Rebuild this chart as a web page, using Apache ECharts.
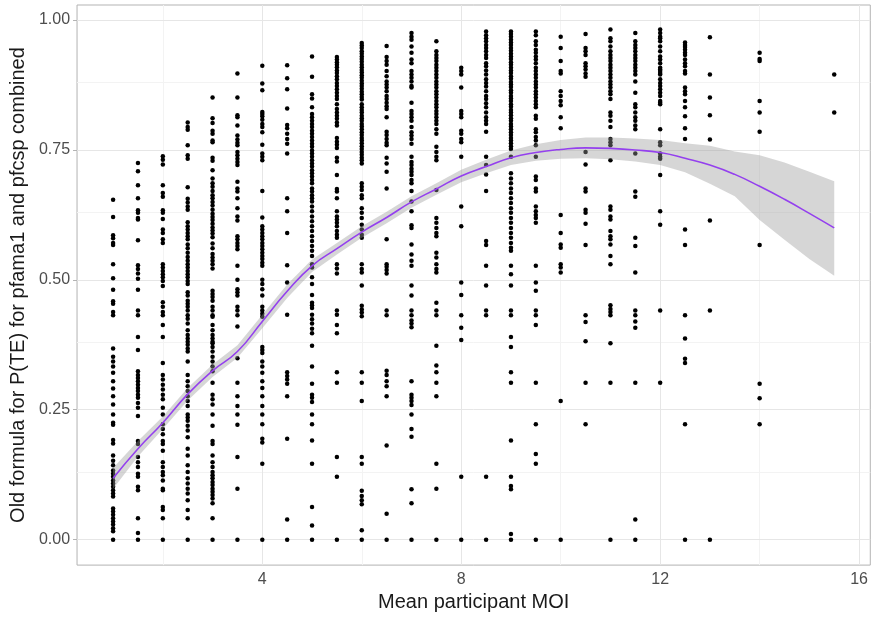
<!DOCTYPE html>
<html>
<head>
<meta charset="utf-8">
<script src="https://cdn.jsdelivr.net/npm/echarts@6/dist/echarts.min.js"></script>
<style>
html,body{margin:0;padding:0;background:#fff;}
#chart{width:871px;height:617px;}
</style>
</head>
<body>
<div id="chart"></div>
<script>
// ---------- tick labels / gridlines ----------
const xMajorTicks = [4, 8, 12, 16];
const xMinorGrid = [2, 6, 10, 14];
const yMajorTicks = [0, 0.25, 0.5, 0.75, 1];
const yMinorGrid = [0.125, 0.375, 0.625, 0.875];

// ---------- scatter data: one array per MOI level ----------
const pte_1_0 = [0.654,0.621,0.586,0.580,0.571,0.567,0.530,0.503,0.481,0.459,0.454,0.438,0.432,0.368,0.352,0.343,0.333,0.321,0.305,0.291,0.276,0.260,0.241,0.225,0.221,0.192,0.185,0.162,0.152,0.143,0.133,0.127,0.121,0.114,0.108,0.102,0.095,0.089,0.083,0.060,0.054,0.048,0.041,0.035,0.029,0.022,0.016,0];
const pte_1_5 = [0.725,0.709,0.682,0.657,0.634,0.629,0.619,0.616,0.576,0.528,0.521,0.512,0.502,0.481,0.441,0.432,0.390,0.365,0.324,0.317,0.311,0.305,0.298,0.292,0.286,0.279,0.273,0.263,0.254,0.238,0.190,0.184,0.159,0.149,0.140,0.127,0.121,0.102,0.095,0.041,0.013,0];
const pte_2_0 = [0.738,0.731,0.722,0.682,0.667,0.660,0.634,0.629,0.617,0.597,0.590,0.578,0.571,0.530,0.524,0.517,0.511,0.505,0.498,0.488,0.457,0.448,0.438,0.432,0.413,0.390,0.340,0.317,0.308,0.298,0.289,0.279,0.270,0.254,0.241,0.222,0.213,0.203,0.190,0.184,0.171,0.149,0.140,0.130,0.124,0.114,0.098,0.095,0.063,0.057,0.041,0];
const pte_2_5 = [0.803,0.794,0.789,0.759,0.740,0.733,0.678,0.656,0.649,0.641,0.635,0.611,0.603,0.597,0.590,0.584,0.578,0.568,0.561,0.552,0.544,0.537,0.530,0.524,0.517,0.511,0.505,0.498,0.492,0.476,0.470,0.460,0.454,0.448,0.441,0.432,0.425,0.416,0.403,0.394,0.387,0.381,0.375,0.368,0.362,0.343,0.317,0.305,0.295,0.286,0.276,0.267,0.257,0.241,0.235,0.229,0.219,0.210,0.197,0.175,0.162,0.143,0.130,0.118,0.108,0.098,0.089,0.076,0.057,0.041,0];
const pte_3_0 = [0.851,0.811,0.802,0.787,0.781,0.768,0.765,0.735,0.729,0.711,0.695,0.686,0.679,0.671,0.663,0.657,0.650,0.643,0.635,0.627,0.621,0.615,0.608,0.601,0.595,0.589,0.582,0.570,0.561,0.550,0.543,0.537,0.530,0.522,0.479,0.473,0.467,0.460,0.448,0.441,0.432,0.429,0.413,0.403,0.394,0.387,0.381,0.378,0.371,0.362,0.352,0.343,0.333,0.324,0.302,0.279,0.270,0.260,0.241,0.219,0.190,0.184,0.162,0.149,0.140,0.130,0.124,0.118,0.111,0.105,0.098,0.092,0.086,0.079,0.070,0.041,0];
const pte_3_5 = [0.897,0.851,0.817,0.813,0.797,0.778,0.770,0.764,0.759,0.746,0.740,0.733,0.727,0.721,0.689,0.676,0.670,0.657,0.638,0.622,0.614,0.584,0.578,0.571,0.565,0.559,0.527,0.500,0.482,0.476,0.470,0.448,0.441,0.432,0.410,0.349,0.302,0.276,0.257,0.241,0.221,0.159,0.098,0];
const pte_4_0 = [0.912,0.878,0.865,0.823,0.819,0.815,0.808,0.800,0.794,0.784,0.760,0.743,0.737,0.730,0.671,0.620,0.603,0.597,0.590,0.584,0.578,0.571,0.565,0.559,0.552,0.546,0.540,0.533,0.527,0.500,0.492,0.482,0.470,0.448,0.441,0.435,0.429,0.371,0.365,0.359,0.343,0.333,0.321,0.305,0.292,0.276,0.257,0.241,0.222,0.194,0.187,0.146,0];
const pte_4_5 = [0.913,0.888,0.867,0.830,0.798,0.792,0.781,0.771,0.762,0.743,0.657,0.632,0.590,0.528,0.495,0.433,0.322,0.315,0.308,0.300,0.276,0.194,0.039,0];
const pte_5_0 = [0.930,0.891,0.857,0.849,0.832,0.819,0.813,0.806,0.800,0.794,0.787,0.781,0.775,0.768,0.762,0.756,0.749,0.743,0.737,0.730,0.724,0.718,0.711,0.705,0.699,0.692,0.686,0.676,0.670,0.663,0.657,0.651,0.641,0.632,0.622,0.613,0.603,0.594,0.584,0.575,0.565,0.556,0.546,0.530,0.524,0.505,0.492,0.471,0.456,0.451,0.446,0.433,0.424,0.416,0.406,0.397,0.373,0.333,0.300,0.279,0.273,0.265,0.241,0.222,0.191,0.146,0.063,0.027,0];
const pte_5_5 = [0.929,0.924,0.919,0.914,0.909,0.903,0.898,0.892,0.886,0.879,0.873,0.867,0.860,0.854,0.848,0.838,0.829,0.822,0.816,0.810,0.803,0.797,0.773,0.766,0.760,0.754,0.735,0.728,0.702,0.675,0.670,0.657,0.632,0.622,0.616,0.610,0.603,0.594,0.587,0.581,0.530,0.522,0.512,0.441,0.433,0.413,0.397,0.322,0.302,0.159,0.121,0];
const pte_6_0 = [0.956,0.951,0.946,0.940,0.935,0.930,0.925,0.920,0.914,0.909,0.904,0.899,0.894,0.889,0.883,0.878,0.873,0.868,0.862,0.857,0.852,0.847,0.838,0.832,0.827,0.822,0.816,0.811,0.806,0.800,0.795,0.790,0.784,0.779,0.773,0.768,0.763,0.757,0.752,0.746,0.741,0.735,0.730,0.724,0.686,0.679,0.673,0.663,0.657,0.638,0.629,0.619,0.606,0.597,0.587,0.581,0.530,0.521,0.514,0.489,0.450,0.443,0.437,0.430,0.322,0.302,0.267,0.159,0.146,0.094,0.084,0.076,0.068,0.018,0];
const pte_6_5 = [0.950,0.929,0.921,0.914,0.902,0.892,0.882,0.876,0.870,0.863,0.854,0.848,0.841,0.834,0.829,0.813,0.785,0.779,0.771,0.764,0.759,0.735,0.724,0.708,0.676,0.578,0.530,0.525,0.519,0.512,0.441,0.432,0.325,0.317,0.305,0.295,0.276,0.181,0.050,0];
const pte_7_0 = [0.975,0.968,0.962,0.949,0.937,0.924,0.917,0.902,0.895,0.889,0.882,0.873,0.870,0.841,0.825,0.819,0.813,0.806,0.794,0.784,0.778,0.771,0.762,0.737,0.727,0.721,0.714,0.708,0.702,0.692,0.686,0.671,0.651,0.632,0.605,0.600,0.568,0.549,0.537,0.527,0.489,0.470,0.441,0.432,0.422,0.416,0.409,0.305,0.279,0.273,0.267,0.259,0.241,0.213,0.198,0.097,0.070,0];
const pte_7_5 = [0.959,0.940,0.933,0.927,0.921,0.914,0.908,0.902,0.895,0.889,0.882,0.876,0.870,0.863,0.857,0.851,0.844,0.838,0.832,0.825,0.819,0.813,0.806,0.800,0.790,0.781,0.756,0.746,0.737,0.730,0.673,0.619,0.610,0.600,0.590,0.584,0.552,0.543,0.530,0.521,0.514,0.456,0.441,0.432,0.373,0.335,0.322,0.302,0.276,0.146,0.098,0];
const pte_8_0 = [0.908,0.902,0.895,0.870,0.825,0.819,0.813,0.787,0.781,0.771,0.765,0.737,0.641,0.603,0.495,0.471,0.432,0.408,0.384,0.121,0];
const pte_8_5 = [0.978,0.971,0.965,0.959,0.952,0.946,0.940,0.933,0.927,0.917,0.911,0.903,0.895,0.886,0.879,0.872,0.863,0.854,0.848,0.840,0.832,0.822,0.813,0.806,0.800,0.785,0.737,0.721,0.703,0.671,0.575,0.567,0.527,0.489,0.441,0.432,0.121,0];
const pte_9_0 = [0.978,0.973,0.968,0.962,0.957,0.952,0.946,0.941,0.935,0.930,0.925,0.919,0.914,0.908,0.903,0.898,0.892,0.887,0.881,0.876,0.871,0.865,0.860,0.854,0.849,0.844,0.838,0.833,0.827,0.822,0.817,0.811,0.806,0.800,0.795,0.790,0.784,0.779,0.773,0.768,0.763,0.757,0.752,0.737,0.705,0.695,0.686,0.676,0.667,0.657,0.648,0.638,0.629,0.619,0.610,0.600,0.590,0.581,0.571,0.562,0.556,0.527,0.511,0.489,0.441,0.432,0.390,0.371,0.322,0.302,0.191,0.121,0.103,0.097,0.011,0];
const pte_9_5 = [0.978,0.971,0.959,0.952,0.943,0.937,0.930,0.924,0.917,0.908,0.902,0.895,0.889,0.882,0.876,0.870,0.863,0.857,0.851,0.844,0.838,0.832,0.816,0.810,0.790,0.784,0.775,0.768,0.759,0.737,0.699,0.692,0.676,0.670,0.641,0.632,0.625,0.619,0.610,0.527,0.495,0.479,0.441,0.432,0.413,0.302,0.222,0.165,0.146,0];
const pte_10_0 = [0.968,0.946,0.921,0.902,0.897,0.863,0.854,0.844,0.836,0.813,0.792,0.625,0.590,0.568,0.562,0.530,0.524,0.514,0.267,0];
const pte_10_5 = [0.973,0.946,0.940,0.933,0.917,0.911,0.905,0.897,0.891,0.746,0.722,0.676,0.670,0.635,0.629,0.608,0.567,0.432,0.419,0.382,0.302,0.222];
const pte_11_0 = [0.982,0.965,0.959,0.949,0.940,0.933,0.927,0.921,0.914,0.908,0.902,0.895,0.889,0.882,0.876,0.870,0.863,0.857,0.848,0.822,0.816,0.806,0.794,0.771,0.765,0.759,0.730,0.641,0.635,0.622,0.616,0.594,0.584,0.578,0.568,0.546,0.530,0.451,0.444,0.438,0.432,0.378,0.302,0];
const pte_11_5 = [0.975,0.959,0.952,0.946,0.940,0.933,0.927,0.921,0.914,0.908,0.902,0.895,0.882,0.860,0.838,0.832,0.822,0.813,0.806,0.797,0.790,0.743,0.670,0.660,0.581,0.565,0.514,0.441,0.432,0.420,0.408,0.302,0.039,0];
const pte_12_0 = [0.982,0.975,0.968,0.965,0.959,0.949,0.940,0.930,0.924,0.917,0.908,0.905,0.902,0.898,0.895,0.886,0.879,0.873,0.867,0.860,0.854,0.844,0.841,0.838,0.790,0.765,0.759,0.743,0.737,0.733,0.702,0.632,0.606,0.441,0.302];
const pte_12_5 = [0.957,0.952,0.948,0.943,0.937,0.933,0.924,0.917,0.911,0.902,0.897,0.870,0.863,0.857,0.844,0.832,0.815,0.792,0.771,0.597,0.567,0.432,0.387,0.348,0.340,0.222,0];
const pte_13_0 = [0.967,0.895,0.851,0.817,0.770,0.614,0.441,0];
const pte_14_0 = [0.937,0.925,0.921,0.844,0.822,0.785,0.567,0.300,0.272,0.222];
const pte_15_5 = [0.895,0.822];

const moiLevels = [1,1.5,2,2.5,3,3.5,4,4.5,5,5.5,6,6.5,7,7.5,8,8.5,9,9.5,10,10.5,11,11.5,12,12.5,13,14,15.5];
const pteColumns = [pte_1_0,pte_1_5,pte_2_0,pte_2_5,pte_3_0,pte_3_5,pte_4_0,pte_4_5,pte_5_0,pte_5_5,pte_6_0,pte_6_5,pte_7_0,pte_7_5,pte_8_0,pte_8_5,pte_9_0,pte_9_5,pte_10_0,pte_10_5,pte_11_0,pte_11_5,pte_12_0,pte_12_5,pte_13_0,pte_14_0,pte_15_5];

// ---------- loess smooth with confidence band ----------
const smoothX = [1,1.5,2,2.5,3,3.5,4,4.5,5,5.5,6,6.5,7,7.5,8,8.5,9,9.5,10,10.5,11,11.5,12,12.5,13,13.5,14,14.5,15,15.5];
const smoothFit = [0.118,0.175,0.225,0.280,0.325,0.362,0.420,0.478,0.527,0.560,0.592,0.620,0.650,0.675,0.700,0.718,0.735,0.745,0.751,0.754,0.753,0.750,0.745,0.734,0.721,0.703,0.680,0.655,0.628,0.600];
const smoothLower = [0.098,0.160,0.213,0.268,0.313,0.350,0.407,0.465,0.515,0.549,0.581,0.609,0.639,0.664,0.688,0.705,0.721,0.729,0.733,0.734,0.732,0.728,0.721,0.707,0.685,0.661,0.615,0.577,0.540,0.508];
const smoothUpper = [0.138,0.190,0.237,0.292,0.337,0.374,0.433,0.491,0.539,0.571,0.603,0.631,0.661,0.686,0.712,0.731,0.749,0.761,0.769,0.774,0.774,0.772,0.769,0.763,0.758,0.747,0.740,0.726,0.708,0.690];

// ---------- build ----------
const points = [];
moiLevels.forEach((m, i) => pteColumns[i].forEach(v => points.push([m, v])));
const fitData = smoothX.map((x, i) => [x, smoothFit[i]]);

const FONT = "'Liberation Sans', Arial, Helvetica, sans-serif";
const gridMajor = {color: '#e6e6e6', width: 1, type: 'solid'};
const gridMinor = {color: '#f3f3f3', width: 1, type: 'solid'};
const gridLines = []
  .concat(xMinorGrid.map(v => ({xAxis: v, lineStyle: gridMinor})))
  .concat(yMinorGrid.map(v => ({yAxis: v, lineStyle: gridMinor})))
  .concat(xMajorTicks.map(v => ({xAxis: v, lineStyle: gridMajor})))
  .concat(yMajorTicks.map(v => ({yAxis: v, lineStyle: gridMajor})));

function renderBand(params, api) {
  const lowerPts = smoothX.map((x, i) => api.coord([x, smoothLower[i]]));
  const upperPts = smoothX.map((x, i) => api.coord([x, smoothUpper[i]])).reverse();
  return {
    type: 'polygon',
    shape: {points: lowerPts.concat(upperPts)},
    style: {fill: 'rgba(153,153,153,0.4)', stroke: null},
    silent: true
  };
}

const chart = echarts.init(document.getElementById('chart'), null, {renderer: 'canvas'});
chart.setOption({
  animation: false,
  backgroundColor: '#ffffff',
  grid: {left: 77, top: 5, width: 796, bottom: 46, show: true, borderColor: '#b3b3b3', borderWidth: 1, backgroundColor: 'transparent', z: 0},
  xAxis: {
    type: 'value', min: 0.275, max: 16.225,
    name: 'Mean participant MOI', nameLocation: 'middle', nameGap: 22,
    nameTextStyle: {fontFamily: FONT, fontSize: 20, color: '#1a1a1a'},
    axisLine: {show: false},
    axisTick: {show: true, length: 4, customValues: xMajorTicks, lineStyle: {color: '#b3b3b3'}},
    axisLabel: {customValues: xMajorTicks, fontFamily: FONT, fontSize: 16, color: '#4d4d4d', margin: 6},
    splitLine: {show: false}
  },
  yAxis: {
    type: 'value', min: -0.049, max: 1.029,
    name: 'Old formula for P(TE) for pfama1 and pfcsp combined', nameLocation: 'middle', nameGap: 44,
    nameTextStyle: {fontFamily: FONT, fontSize: 20, color: '#1a1a1a'},
    axisLine: {show: false},
    axisTick: {show: true, length: 4, customValues: yMajorTicks, lineStyle: {color: '#b3b3b3'}},
    axisLabel: {customValues: yMajorTicks, fontFamily: FONT, fontSize: 16, color: '#4d4d4d', margin: 7,
      formatter: v => v.toFixed(2)},
    splitLine: {show: false}
  },
  series: [
    {
      type: 'line', data: [], silent: true, z: 1,
      markLine: {silent: true, symbol: ['none', 'none'], label: {show: false}, animation: false, z: 1, data: gridLines}
    },
    {
      type: 'scatter', data: points, symbol: 'circle', symbolSize: 4.5, z: 2, silent: true,
      itemStyle: {color: '#000000', opacity: 1}
    },
    {
      type: 'custom', renderItem: renderBand, data: [[smoothX[0], smoothFit[0]]], z: 3, silent: true, clip: true
    },
    {
      type: 'line', data: fitData, smooth: true, symbol: 'none', z: 4, silent: true,
      lineStyle: {color: '#9440ee', width: 1.6}
    }
  ]
});
</script>
</body>
</html>
